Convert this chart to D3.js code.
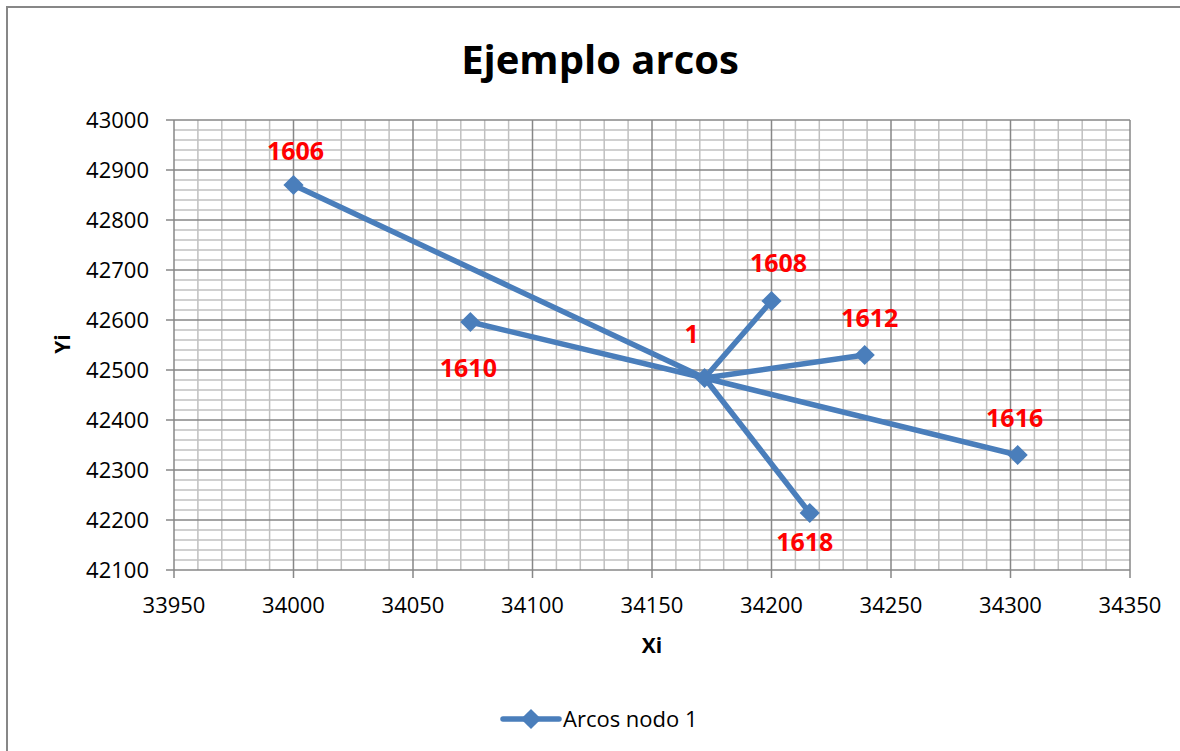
<!DOCTYPE html>
<html lang="es">
<head>
    <meta charset="utf-8" />
    <title>Ejemplo arcos</title>
    <style>
        html, body { margin: 0; background: #fff; overflow: hidden; }
        svg { display: block; }
        svg text { font-family: "Open Sans", "DejaVu Sans", sans-serif; }
        .tick-label { font-size: 22px; fill: #000; }
        .data-label { font-size: 25px; font-weight: bold; fill: #ff0000; }
    </style>
</head>
<body>
<div id="graph"></div>
<script src="https://d3js.org/d3.v7.min.js"></script>
<script>
    // nodo central "1" y sus arcos
    var labels = ["1", "1606", "1608", "1610", "1612", "1616", "1618"];
    var xi = [34172, 34000, 34200, 34074, 34239, 34303, 34216];
    var yi = [42484, 42870, 42638, 42596, 42530, 42330, 42214];
    var xTicks = [33950, 34000, 34050, 34100, 34150, 34200, 34250, 34300, 34350];
    var yTicks = [42100, 42200, 42300, 42400, 42500, 42600, 42700, 42800, 42900, 43000];
    var seriesName = "Arcos nodo 1";

    // label placement (dx, dy from the point)
    var labelOffsets = [[-13, -35], [2, -25], [7, -29], [-2, 55], [5, -28], [-3, -28], [-5, 38]];

    var W = 1180, H = 751;
    var plotL = 174, plotR = 1130, plotT = 120, plotB = 570;

    var x = d3.scaleLinear().domain([33950, 34350]).range([plotL, plotR]);
    var y = d3.scaleLinear().domain([42100, 43000]).range([plotB, plotT]);

    var svg = d3.select("#graph").append("svg")
        .attr("width", W)
        .attr("height", H);

    // outer chart border
    svg.append("rect")
        .attr("x", 7).attr("y", 7)
        .attr("width", W + 20).attr("height", H + 20)
        .attr("fill", "#fff")
        .attr("stroke", "#878787")
        .attr("stroke-width", 2);

    // minor gridlines
    var minorX = d3.range(33950, 34350 + 1, 10).filter(function (v) { return v % 50 != 0; });
    var minorY = d3.range(42100, 43000 + 1, 20).filter(function (v) { return v % 100 != 0; });

    svg.append("g").selectAll("line").data(minorX).enter().append("line")
        .attr("x1", function (d) { return x(d); }).attr("x2", function (d) { return x(d); })
        .attr("y1", plotT).attr("y2", plotB)
        .attr("stroke", "#c0c0c0").attr("stroke-width", 1.5);
    svg.append("g").selectAll("line").data(minorY).enter().append("line")
        .attr("y1", function (d) { return y(d); }).attr("y2", function (d) { return y(d); })
        .attr("x1", plotL).attr("x2", plotR)
        .attr("stroke", "#c0c0c0").attr("stroke-width", 1.5);

    // major gridlines + ticks
    svg.append("g").selectAll("line").data(xTicks).enter().append("line")
        .attr("x1", function (d) { return x(d); }).attr("x2", function (d) { return x(d); })
        .attr("y1", plotT).attr("y2", plotB + 8)
        .attr("stroke", "#878787").attr("stroke-width", 1.5);
    svg.append("g").selectAll("line").data(yTicks).enter().append("line")
        .attr("y1", function (d) { return y(d); }).attr("y2", function (d) { return y(d); })
        .attr("x1", plotL - 8).attr("x2", plotR)
        .attr("stroke", "#878787").attr("stroke-width", 1.5);

    // tick labels
    svg.append("g").selectAll("text").data(xTicks).enter().append("text")
        .attr("class", "tick-label")
        .attr("x", function (d) { return x(d); })
        .attr("y", 613)
        .attr("text-anchor", "middle")
        .text(function (d) { return d; });
    svg.append("g").selectAll("text").data(yTicks).enter().append("text")
        .attr("class", "tick-label")
        .attr("x", 149)
        .attr("y", function (d) { return y(d) + 8; })
        .attr("text-anchor", "end")
        .text(function (d) { return d; });

    // titles
    svg.append("text")
        .attr("x", 600).attr("y", 74)
        .attr("text-anchor", "middle")
        .style("font-size", "40px").style("font-weight", "bold")
        .text("Ejemplo arcos");
    svg.append("text")
        .attr("x", 652).attr("y", 653)
        .attr("text-anchor", "middle")
        .style("font-size", "21px").style("font-weight", "bold")
        .text("Xi");
    svg.append("text")
        .attr("transform", "translate(70,344) rotate(-90)")
        .attr("text-anchor", "middle")
        .style("font-size", "21px").style("font-weight", "bold")
        .text("Yi");

    // series: centre -> each node -> back to centre
    var seq = [];
    for (var i = 1; i < labels.length; i++) {
        seq.push(0);
        seq.push(i);
    }
    seq.push(0);

    var lineFunc = d3.line()
        .x(function (d) { return x(xi[d]); })
        .y(function (d) { return y(yi[d]); });

    var blue = "#4a7ebb";

    svg.append("path")
        .attr("d", lineFunc(seq))
        .attr("fill", "none")
        .attr("stroke", blue)
        .attr("stroke-width", 5.5)
        .attr("stroke-linejoin", "round");

    var diamond = d3.symbol().type(d3.symbolDiamond2).size(260);

    svg.append("g").selectAll("path").data(labels).enter().append("path")
        .attr("d", diamond)
        .attr("transform", function (d, i) { return "translate(" + x(xi[i]) + "," + y(yi[i]) + ")"; })
        .attr("fill", blue);

    svg.append("g").selectAll("text").data(labels).enter().append("text")
        .attr("class", "data-label")
        .attr("x", function (d, i) { return x(xi[i]) + labelOffsets[i][0]; })
        .attr("y", function (d, i) { return y(yi[i]) + labelOffsets[i][1]; })
        .attr("text-anchor", "middle")
        .text(function (d) { return d; });

    // legend
    svg.append("line")
        .attr("x1", 503).attr("x2", 559).attr("y1", 719).attr("y2", 719)
        .attr("stroke", blue).attr("stroke-width", 5.5).attr("stroke-linecap", "round");
    svg.append("path")
        .attr("d", diamond)
        .attr("transform", "translate(531,719)")
        .attr("fill", blue);
    svg.append("text")
        .attr("class", "tick-label")
        .attr("x", 563).attr("y", 727)
        .text(seriesName);
</script>
</body>
</html>
